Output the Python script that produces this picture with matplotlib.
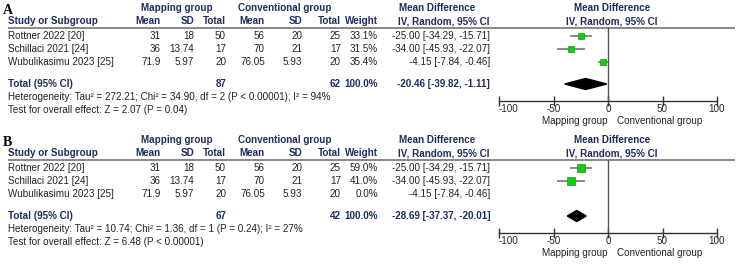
import matplotlib.pyplot as plt
from matplotlib.patches import Polygon
import numpy as np

plt.rcParams['font.family'] = ['Liberation Sans', 'DejaVu Sans']

# study rows (same for both panels)
studies = ["Rottner 2022 [20]", "Schillaci 2021 [24]", "Wubulikasimu 2023 [25]"]
map_mean = ["31", "36", "71.9"]
map_sd = ["18", "13.74", "5.97"]
map_n = [50, 17, 20]
conv_mean = ["56", "70", "76.05"]
conv_sd = ["20", "21", "5.93"]
conv_n = [25, 17, 20]
md = [-25.00, -34.00, -4.15]
md_lo = [-34.29, -45.93, -7.84]
md_hi = [-15.71, -22.07, -0.46]

# panel A
weights_a = [33.1, 31.5, 35.4]
total_n_a = [87, 62]
pooled_a = [-20.46, -39.82, -1.11]
het_a = "Heterogeneity: Tau\u00b2 = 272.21; Chi\u00b2 = 34.90, df = 2 (P < 0.00001); I\u00b2 = 94%"
test_a = "Test for overall effect: Z = 2.07 (P = 0.04)"

# panel B
weights_b = [59.0, 41.0, 0.0]
total_n_b = [67, 42]
pooled_b = [-28.69, -37.37, -20.01]
het_b = "Heterogeneity: Tau\u00b2 = 10.74; Chi\u00b2 = 1.36, df = 1 (P = 0.24); I\u00b2 = 27%"
test_b = "Test for overall effect: Z = 6.48 (P < 0.00001)"

ticks = [-100, -50, 0, 50, 100]

W, H = 750, 272
fig = plt.figure(figsize=(7.5, 2.72), dpi=100)
ax = fig.add_axes([0, 0, 1, 1])
ax.set_xlim(0, W)
ax.set_ylim(H, 0)
ax.axis('off')

navy = '#1f2d5c'
body = '#222222'
fs = 7.1


def fmt(v):
    return f"{v:.2f}"


def panel(letter, yb, weights, total_n, pooled, het, test):
    ax.text(3, yb + 10, letter, fontsize=10, fontweight='bold', family='Liberation Serif',
            va='center', ha='left', color='black')
    hb = dict(fontsize=fs, fontweight='bold', color=navy, va='center')
    ax.text(177, yb + 8, "Mapping group", ha='center', **hb)
    ax.text(285, yb + 8, "Conventional group", ha='center', **hb)
    ax.text(437, yb + 8, "Mean Difference", ha='center', **hb)
    ax.text(612, yb + 8, "Mean Difference", ha='center', **hb)
    ax.text(8, yb + 21, "Study or Subgroup", ha='left', **hb)
    for x, s in [(161, "Mean"), (194, "SD"), (226, "Total"), (265, "Mean"),
                 (302, "SD"), (341, "Total"), (378, "Weight"), (490, "IV, Random, 95% CI")]:
        ax.text(x, yb + 21, s, ha='right', **hb)
    ax.text(612, yb + 21, "IV, Random, 95% CI", ha='center', **hb)
    ax.plot([8, 735], [yb + 28, yb + 28], color='#7f7f7f', lw=1.3, solid_capstyle='butt')

    rows = [yb + 36, yb + 49, yb + 62]
    tb = dict(fontsize=fs, color=body, va='center')
    for i, y in enumerate(rows):
        ax.text(8, y, studies[i], ha='left', **tb)
        ax.text(161, y, map_mean[i], ha='right', **tb)
        ax.text(194, y, map_sd[i], ha='right', **tb)
        ax.text(226, y, str(map_n[i]), ha='right', **tb)
        ax.text(265, y, conv_mean[i], ha='right', **tb)
        ax.text(302, y, conv_sd[i], ha='right', **tb)
        ax.text(341, y, str(conv_n[i]), ha='right', **tb)
        ax.text(378, y, f"{weights[i]:.1f}%", ha='right', **tb)
        ax.text(490, y, f"{fmt(md[i])} [{fmt(md_lo[i])}, {fmt(md_hi[i])}]", ha='right', **tb)

    yt = yb + 84
    ax.text(8, yt, "Total (95% CI)", ha='left', **hb)
    ax.text(226, yt, str(total_n[0]), ha='right', **hb)
    ax.text(341, yt, str(total_n[1]), ha='right', **hb)
    ax.text(378, yt, "100.0%", ha='right', **hb)
    ax.text(490, yt, f"{fmt(pooled[0])} [{fmt(pooled[1])}, {fmt(pooled[2])}]", ha='right', **hb)
    ax.text(8, yb + 97, het, ha='left', **tb)
    ax.text(8, yb + 110, test, ha='left', **tb)

    # forest plot axes: x in mean difference units, y in pixel rows
    y0, y1 = yb + 28, yb + 101
    fa = fig.add_axes([499 / W, 1 - y1 / H, 218 / W, (y1 - y0) / H])
    fa.set_xlim(-100, 100)
    fa.set_ylim(y1, y0)
    fa.patch.set_alpha(0)
    for s in ['top', 'left', 'right']:
        fa.spines[s].set_visible(False)
    fa.spines['bottom'].set_color('#333333')
    fa.spines['bottom'].set_linewidth(1.0)
    fa.set_yticks([])
    fa.set_xticks(ticks)
    fa.set_xticklabels([str(t) for t in ticks], fontsize=fs, color=body)
    fa.tick_params(axis='x', direction='inout', length=7, width=1.0, color='#333333', pad=-1)
    fa.get_xticklabels()[0].set_horizontalalignment('left')
    fa.axvline(0, color='#555555', lw=1.0)
    for i, y in enumerate(rows):
        if weights[i] <= 0:
            continue
        fa.plot([md_lo[i], md_hi[i]], [y, y], color='#808080', lw=1.3, clip_on=False)
        side = 1.17 * np.sqrt(weights[i]) * 0.72
        fa.plot([md[i]], [y], marker='s', markersize=side, color='#12cc12',
                markeredgecolor='#0e9e0e', markeredgewidth=0.5, clip_on=False)
    dy = 5.5
    fa.add_patch(Polygon([[pooled[1], yt], [pooled[0], yt - dy], [pooled[2], yt],
                          [pooled[0], yt + dy]], closed=True, color='black', clip_on=False))
    ax.text(608, yb + 121, "Mapping group", ha='right', **tb)
    ax.text(617, yb + 121, "Conventional group", ha='left', **tb)


panel("A", 0, weights_a, total_n_a, pooled_a, het_a, test_a)
panel("B", 132, weights_b, total_n_b, pooled_b, het_b, test_b)

fig.savefig('out.png', dpi=100)
